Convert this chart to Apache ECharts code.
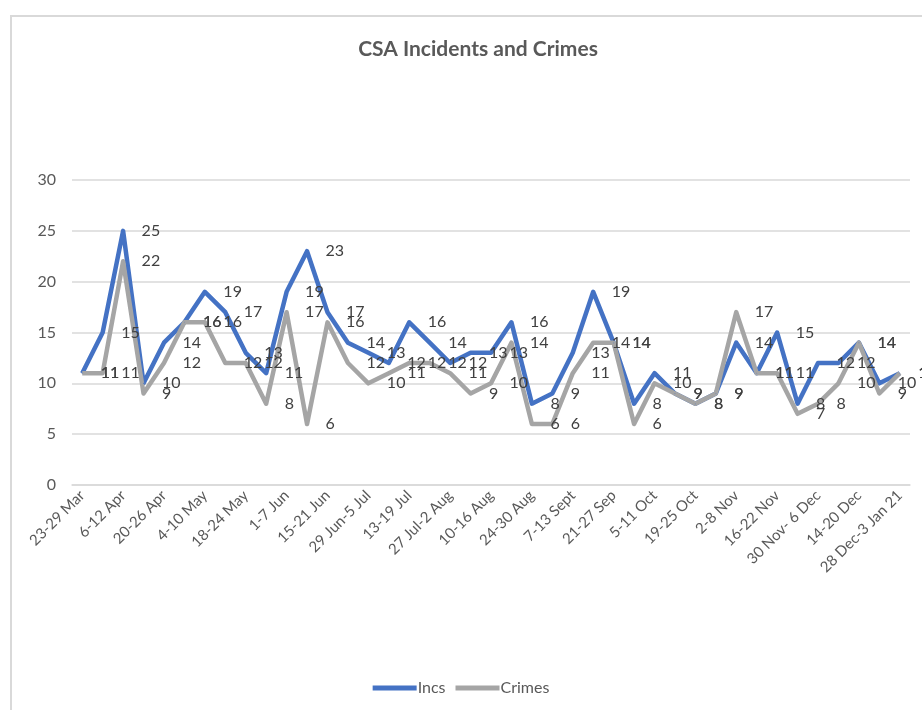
<!DOCTYPE html>
<html>
<head>
<meta charset="utf-8">
<script src="https://cdn.jsdelivr.net/npm/echarts@6/dist/echarts.min.js"></script>
<style>
  html, body { margin: 0; padding: 0; background: #fff; }
  #chart { width: 922px; height: 710px; }
</style>
</head>
<body>
<div id="chart"></div>
<script>
// Weekly periods (every other one is labelled on the axis)
const weeks = [
  '23-29 Mar', '30 Mar-5 Apr', '6-12 Apr', '13-19 Apr', '20-26 Apr', '27 Apr-3 May',
  '4-10 May', '11-17 May', '18-24 May', '25-31 May', '1-7 Jun', '8-14 Jun',
  '15-21 Jun', '22-28 Jun', '29 Jun-5 Jul', '6-12 Jul', '13-19 Jul', '20-26 Jul',
  '27 Jul-2 Aug', '3-9 Aug', '10-16 Aug', '17-23 Aug', '24-30 Aug', '31 Aug-6 Sept',
  '7-13 Sept', '14-20 Sept', '21-27 Sep', '28 Sep-4 Oct', '5-11 Oct', '12-18 Oct',
  '19-25 Oct', '26 Oct-1 Nov', '2-8 Nov', '9-15 Nov', '16-22 Nov', '23-29 Nov',
  '30 Nov- 6 Dec', '7-13 Dec', '14-20 Dec', '21-27 Dec', '28 Dec-3 Jan 21'
];

const incs = [
  11, 15, 25, 10, 14, 16, 19, 17, 13, 11, 19, 23, 17, 14, 13, 12, 16, 14, 12, 13,
  13, 16, 8, 9, 13, 19, 14, 8, 11, 9, 8, 9, 14, 11, 15, 8, 12, 12, 14, 10, 11
];

const crimes = [
  11, 11, 22, 9, 12, 16, 16, 12, 12, 8, 17, 6, 16, 12, 10, 11, 12, 12, 11, 9,
  10, 14, 6, 6, 11, 14, 14, 6, 10, 9, 8, 9, 17, 11, 11, 7, 8, 10, 14, 9, 11
];

const yTicks = { min: 0, max: 30, step: 5 };

const FONT = 'Lato, "Open Sans", sans-serif';
const chart = echarts.init(document.getElementById('chart'));

function lineSeries(name, data, color) {
  return {
    name: name,
    type: 'line',
    data: data,
    symbol: 'circle',
    symbolSize: 1,
    itemStyle: { color: color },
    lineStyle: { color: color, width: 4.5, join: 'round' },
    label: {
      show: true,
      position: 'right',
      distance: 18,
      color: '#404040',
      fontSize: 16,
      fontFamily: FONT
    },
    emphasis: { disabled: true },
    animation: false
  };
}

chart.setOption({
  backgroundColor: '#ffffff',
  animation: false,
  title: {
    text: 'CSA Incidents and Crimes',
    left: 473,
    textAlign: 'center',
    top: 34,
    textStyle: { color: '#595959', fontSize: 21, fontWeight: 'bold', fontFamily: FONT }
  },
  legend: {
    bottom: 9,
    left: 'center',
    itemWidth: 44,
    itemHeight: 5,
    itemGap: 10,
    icon: 'rect',
    textStyle: { color: '#595959', fontSize: 16, fontFamily: FONT, padding: [0, 0, 0, -4] },
    data: ['Incs', 'Crimes']
  },
  grid: { left: 72, right: 12, top: 180, bottom: 225, containLabel: false },
  xAxis: {
    type: 'category',
    data: weeks,
    boundaryGap: true,
    axisLine: { show: true, lineStyle: { color: '#d9d9d9', width: 1.5 } },
    axisTick: { show: false },
    axisLabel: {
      interval: 1,
      rotate: 45,
      margin: 8,
      color: '#595959',
      fontSize: 15,
      fontFamily: FONT
    }
  },
  yAxis: {
    type: 'value',
    min: yTicks.min,
    max: yTicks.max,
    interval: yTicks.step,
    axisLine: { show: false },
    axisTick: { show: false },
    axisLabel: { color: '#595959', fontSize: 16, fontFamily: FONT, margin: 16 },
    splitLine: { lineStyle: { color: '#d9d9d9', width: 1.5 } }
  },
  graphic: [{
    type: 'polyline',
    shape: { points: [[11, 710], [11, 16], [922, 16]] },
    style: { stroke: '#d9d9d9', lineWidth: 2, fill: null },
    silent: true
  }],
  series: [
    lineSeries('Incs', incs, '#4472C4'),
    lineSeries('Crimes', crimes, '#A5A5A5')
  ]
});
</script>
</body>
</html>
